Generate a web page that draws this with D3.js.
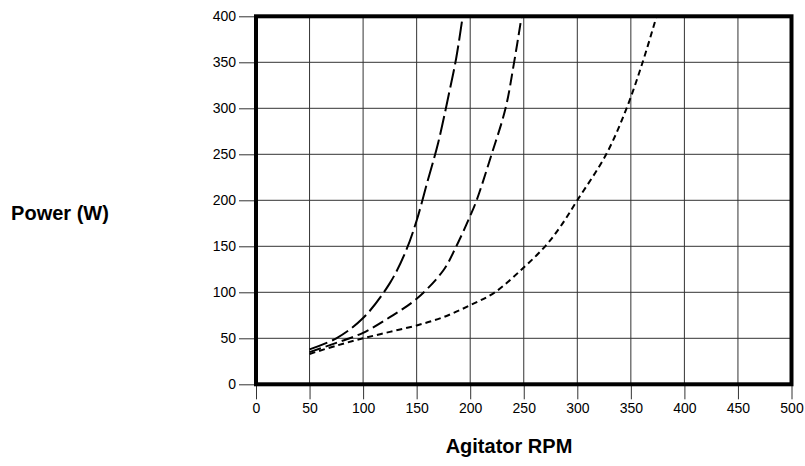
<!DOCTYPE html>
<html>
<head>
<meta charset="utf-8">
<script src="https://cdn.jsdelivr.net/npm/d3@7"></script>
<style>
  html, body { margin: 0; padding: 0; background: #fff; }
  svg { display: block; font-family: "Liberation Sans", Arial, Helvetica, sans-serif; }
</style>
</head>
<body>
<svg id="chart" width="805" height="466"></svg>
<script>
// Agitator speed vs. power draw for three impeller configurations
const xTicks = [0, 50, 100, 150, 200, 250, 300, 350, 400, 450, 500];
const yTicks = [0, 50, 100, 150, 200, 250, 300, 350, 400];

const rpmA   = [50, 75, 100, 125, 140, 150, 160, 170, 180, 187, 193];
const powerA = [38, 50, 72, 110, 145, 178, 220, 262, 315, 355, 400];

const rpmB   = [50, 75, 100, 125, 150, 175, 187, 200, 206, 220, 233, 241, 248];
const powerB = [35, 45, 56, 73, 93, 124, 150, 183, 200, 250, 300, 350, 400];

const rpmC   = [50, 75, 100, 125, 150, 175, 200, 223, 250, 270, 284, 300, 327, 346, 361, 374];
const powerC = [33, 42, 50, 57, 64, 73, 86, 100, 127, 150, 171, 200, 250, 300, 350, 400];

const seriesList = [
  { rpm: rpmA, power: powerA, dash: "19,5" },
  { rpm: rpmB, power: powerB, dash: "12,5" },
  { rpm: rpmC, power: powerC, dash: "6,4" }
];

const svg = d3.select("#chart");
const plotL = 256, plotR = 791.5, plotT = 16.3, plotB = 384.3;

const x = d3.scaleLinear().domain([0, 500]).range([plotL, plotR]);
const y = d3.scaleLinear().domain([0, 400]).range([plotB, plotT]);

// grid
const grid = svg.append("g").attr("stroke", "#333").attr("stroke-width", 1);
grid.selectAll("line.v").data(xTicks).join("line").attr("class", "v")
  .attr("x1", d => x(d)).attr("x2", d => x(d))
  .attr("y1", plotT).attr("y2", plotB);
grid.selectAll("line.h").data(yTicks).join("line").attr("class", "h")
  .attr("x1", plotL).attr("x2", plotR)
  .attr("y1", d => y(d)).attr("y2", d => y(d));

// axes
const xAxis = svg.append("g")
  .attr("transform", `translate(0,${plotB})`)
  .call(d3.axisBottom(x).tickValues(xTicks).tickSize(15).tickPadding(4).tickFormat(d3.format("d")));
const yAxis = svg.append("g")
  .attr("transform", `translate(${plotL},0)`)
  .call(d3.axisLeft(y).tickValues(yTicks).tickSize(17).tickPadding(3).tickFormat(d3.format("d")));
[xAxis, yAxis].forEach(a => {
  a.select(".domain").remove();
  a.selectAll(".tick line").attr("stroke", "#333");
  a.selectAll(".tick text").attr("font-size", 14).attr("fill", "#000")
    .attr("font-family", "'Liberation Sans', Arial, sans-serif");
});

// curves
svg.append("clipPath").attr("id", "plot-clip")
  .append("rect").attr("x", plotL).attr("y", plotT)
  .attr("width", plotR - plotL).attr("height", plotB - plotT);

const line = d3.line()
  .x(d => x(d[0]))
  .y(d => y(d[1]))
  .curve(d3.curveCatmullRom.alpha(0.5));

svg.append("g").attr("clip-path", "url(#plot-clip)")
  .selectAll("path").data(seriesList).join("path")
  .attr("d", s => line(s.rpm.map((r, i) => [r, s.power[i]])))
  .attr("fill", "none")
  .attr("stroke", "#000")
  .attr("stroke-width", 2)
  .attr("stroke-dasharray", s => s.dash);

// frame
svg.append("rect")
  .attr("x", plotL).attr("y", plotT)
  .attr("width", plotR - plotL).attr("height", plotB - plotT)
  .attr("fill", "none").attr("stroke", "#000").attr("stroke-width", 4);

// titles
svg.append("text")
  .attr("x", 60).attr("y", 220)
  .attr("text-anchor", "middle")
  .attr("font-size", 20).attr("font-weight", "bold")
  .text("Power (W)");
svg.append("text")
  .attr("x", 509).attr("y", 453)
  .attr("text-anchor", "middle")
  .attr("font-size", 20).attr("font-weight", "bold")
  .text("Agitator RPM");
</script>
</body>
</html>
